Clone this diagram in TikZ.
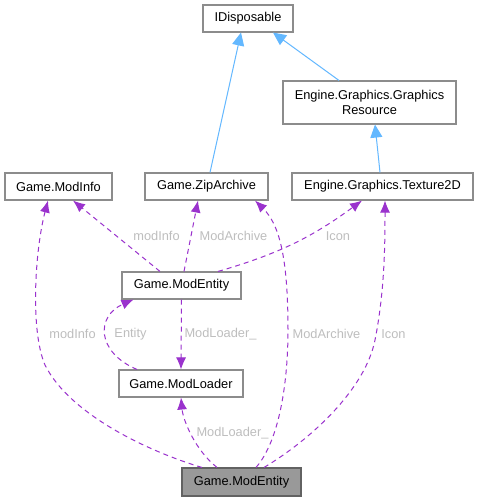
\documentclass[tikz,border=0pt]{standalone}
\usepackage{fontspec}
\setmainfont{Liberation Sans}
\usepackage{tikz}
\usetikzlibrary{positioning,calc,arrows.meta}
\definecolor{color-1}{HTML}{9A32CD}% usage edges
\definecolor{color-2}{HTML}{63B8FF}% inheritance edges
\definecolor{color-3}{HTML}{BEBEBE}% edge labels
\definecolor{color-4}{HTML}{8C8C8C}% box border
\definecolor{color-5}{HTML}{999999}% current class

\tikzset{
  box/.style={draw=color-4, line width=1.1pt, fill=white, inner sep=0pt,
    minimum height=27pt, font=\fontsize{12.8}{15}\selectfont, align=center},
  curbox/.style={box, fill=color-5, draw=color-4!70!black},
  uses/.style={color-1, line width=1pt, dash pattern=on 5pt off 4pt,
    -{Latex[length=12pt,width=10pt]}},
  inherits/.style={color-2, line width=1pt,
    -{Triangle[length=13pt,width=12pt,fill=color-2]}},
  lbl/.style={text=color-3, inner sep=0pt, font=\fontsize{12.8}{15}\selectfont}
}

\begin{document}
\begin{tikzpicture}[x=1pt,y=-1pt]
\fill[white] (0,0) rectangle (479,501);
\useasboundingbox (0,0) rectangle (479,501);

% classes
\node [name=idisposable, box, minimum width=90pt] at (248,18.5) {IDisposable};
\node [name=gresource, box, minimum width=173pt, minimum height=43pt] at (369.5,102.5)
  {Engine.Graphics.Graphics\\Resource};
\node [name=modinfo, box, minimum width=107pt] at (58.5,186.5) {Game.ModInfo};
\node [name=ziparchive, box, minimum width=123pt] at (206.5,186.5) {Game.ZipArchive};
\node [name=texture, box, minimum width=181pt] at (382.5,186.5) {Engine.Graphics.Texture2D};
\node [name=modentity, box, minimum width=119pt] at (181.5,285.5) {Game.ModEntity};
\node [name=modloader, box, minimum width=124pt] at (181,383.5) {Game.ModLoader};
\node [name=current, curbox, minimum width=119pt, minimum height=28pt] at (241.5,482) {Game.ModEntity};

% inheritance
\draw [inherits] ([xshift=3.5pt]ziparchive.north) -- ([xshift=-7pt]idisposable.south);
\draw [inherits] ([xshift=-30.5pt]gresource.north) -- ([xshift=25pt]idisposable.south);
\draw [inherits] ([xshift=-2.5pt]texture.north) -- ([xshift=5.5pt]gresource.south);

% members of the middle entity
\draw [uses] ([xshift=-21.5pt]modentity.north) -- ([xshift=14.5pt]modinfo.south);
\draw [uses] ([xshift=2.5pt]modentity.north) -- ([xshift=-8.5pt]ziparchive.south);
\draw [uses] ([xshift=36.5pt]modentity.north) to[bend right=10] ([xshift=-20.5pt]texture.south);
\draw [uses] (modentity.south) -- (modloader.north);
\draw [uses] ([xshift=-44pt]modloader.north) .. controls (96,352) and (96,316) .. ([xshift=-48pt]modentity.south);

% members of the current class
\draw [uses] ([xshift=-39.5pt]current.north) .. controls (150,452) and (70,415) .. (45,365)
  .. controls (30,330) and (35,250) .. ([xshift=-10.5pt]modinfo.south);
\draw [uses] ([xshift=-24.5pt]current.north) .. controls (195,450) and (183,420) .. (modloader.south);
\draw [uses] ([xshift=14.5pt]current.north) .. controls (280,440) and (288,380) .. (288,330)
  .. controls (288,260) and (280,225) .. ([xshift=48.5pt]ziparchive.south);
\draw [uses] ([xshift=22.5pt]current.north) .. controls (310,440) and (365,390) .. (375,340)
  .. controls (385,290) and (385,240) .. ([xshift=2.5pt]texture.south);

% edge labels
\node [name=lmodinfo, lbl] at (156.5,236) {modInfo};
\node [name=lziparchive, lbl] at (233.5,236) {ModArchive};
\node [name=licon, lbl] at (338,236) {Icon};
\node [name=lmodloader, lbl] at (220.5,334) {ModLoader\_};
\node [name=lentity, lbl] at (130.5,334) {Entity};
\node [name=lmodinfob, lbl] at (72.5,334) {modInfo};
\node [name=lziparchiveb, lbl] at (326.5,334) {ModArchive};
\node [name=liconb, lbl] at (393.5,334) {Icon};
\node [name=lmodloaderb, lbl] at (232.5,433) {ModLoader\_};

\end{tikzpicture}
\end{document}
